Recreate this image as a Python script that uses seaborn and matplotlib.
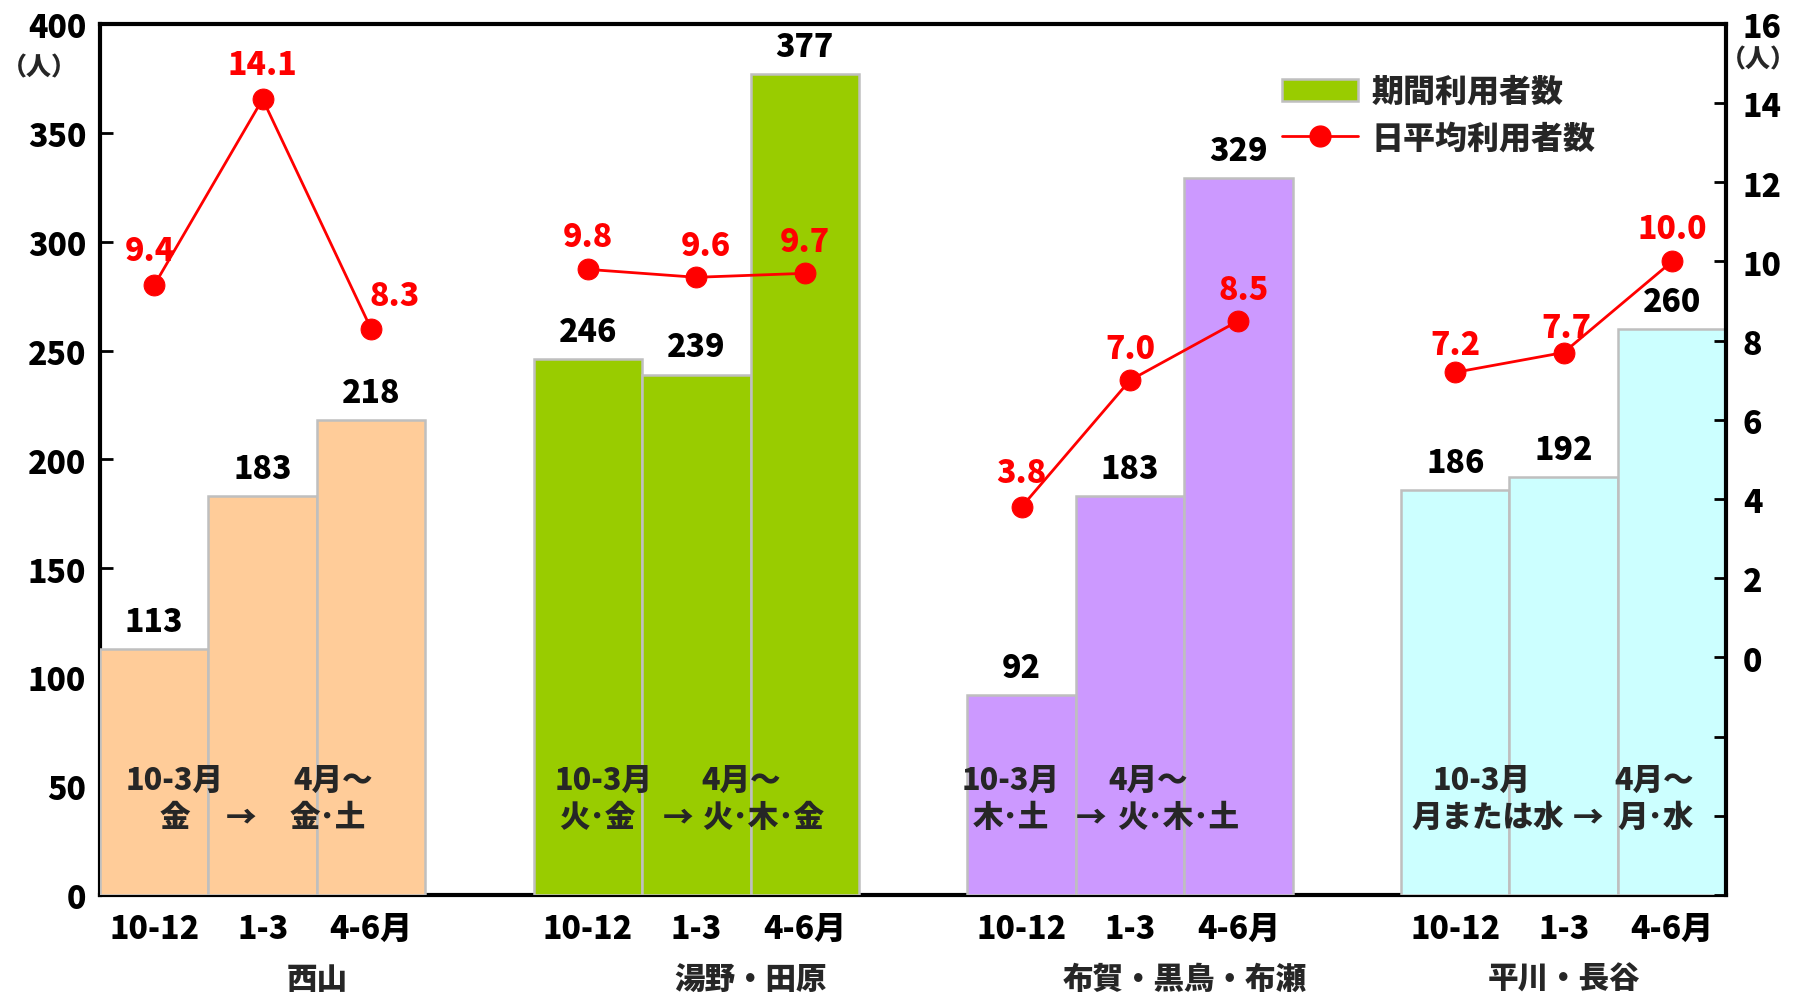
import numpy as np
import pandas as pd
import matplotlib
matplotlib.use("Agg")
import matplotlib.pyplot as plt
import matplotlib.transforms as mtransforms
from matplotlib.patches import Patch
from matplotlib.lines import Line2D
import seaborn as sns

# ---------------- data ----------------
groups = ["西山", "湯野・田原", "布賀・黒鳥・布瀬", "平川・長谷"]
periods = ["10-12", "1-3", "4-6月"]
period_users = [113, 183, 218, 246, 239, 377, 92, 183, 329, 186, 192, 260]
daily_users = [9.4, 14.1, 8.3, 9.8, 9.6, 9.7, 3.8, 7.0, 8.5, 7.2, 7.7, 10.0]
group_colors = ["#FFCC99", "#99CC00", "#CC99FF", "#CCFFFF"]
schedule_before = ["金", "火･金", "木･土", "月または水"]
schedule_after = ["金･土", "火･木･金", "火･木･土", "月･水"]
legend_labels = ["期間利用者数", "日平均利用者数"]

# ---------------- layout (annotation placement) ----------------
sched_head_x = [(0.19, 1.65), (4.14, 5.41), (7.90, 9.17), (12.24, 13.83)]
sched_row_x = [(0.19, 0.80, 1.60), (4.09, 4.83, 5.62), (7.90, 8.64, 9.44), (12.30, 13.22, 13.85)]
group_label_x = [1.5, 5.5, 9.5, 13.0]
line_label_offset = [(-3, 25), (0, 25), (17, 24), (0, 24), (7, 23), (0, 23),
                     (0, 25), (0, 23), (4, 23), (0, 20), (2, 18), (0, 24)]

FONT = ["Noto Sans CJK JP", "DejaVu Sans"]
W = "heavy"

rows = []
for gi, g in enumerate(groups):
    for pi, p in enumerate(periods):
        k = gi * 3 + pi
        rows.append(dict(group=g, period=p, slot=gi * 4 + pi,
                         users=period_users[k], daily=daily_users[k]))
df = pd.DataFrame(rows)

sns.set_theme(style="white")
plt.rcParams["font.family"] = FONT
plt.rcParams["font.weight"] = W

fig = plt.figure(figsize=(18.02, 9.95), dpi=100)
ax = fig.add_axes([0.0555, 0.0995, 0.9025, 0.8755])

sns.barplot(data=df, x="slot", y="users", hue="group", hue_order=groups,
            palette=group_colors, native_scale=True, width=1.0, dodge=False,
            saturation=1, errorbar=None, edgecolor="#BFBFBF", linewidth=1.8,
            legend=False, ax=ax, zorder=3)

ax.set_xlim(-0.5, 14.5)
ax.set_ylim(0, 400)
ax.set_yticks(np.arange(0, 401, 50))
ax.set_xticks(df["slot"])
ax.set_xticklabels(df["period"])
ax.set_xlabel("")
ax.set_ylabel("")
ax.tick_params(axis="y", direction="in", length=9, width=2, labelsize=23, pad=10, colors="black")
ax.tick_params(axis="x", length=0, labelsize=23, pad=12, colors="black")
for lab in ax.get_xticklabels() + ax.get_yticklabels():
    lab.set_fontweight(W)

for s in ["left", "top", "bottom"]:
    ax.spines[s].set_color("black")
    ax.spines[s].set_linewidth(3)
ax.spines["right"].set_visible(False)
ax.spines["bottom"].set_zorder(2)

# bar value labels
for _, r in df.iterrows():
    ax.annotate(f"{r.users}", (r.slot, r.users), xytext=(0, 20), textcoords="offset points",
                ha="center", va="center", fontsize=23, fontweight=W, color="black", zorder=6)

# schedule texts
for gi in range(len(groups)):
    hx = sched_head_x[gi]
    rx = sched_row_x[gi]
    kw = dict(ha="center", va="center", fontsize=22, fontweight=W, zorder=6)
    ax.text(hx[0], 53, "10-3月", **kw)
    ax.text(hx[1], 53, "4月～", **kw)
    ax.text(rx[0], 36, schedule_before[gi], **kw)
    ax.text(rx[1], 36, "→", **kw)
    ax.text(rx[2], 36, schedule_after[gi], **kw)

# group labels
trans = mtransforms.blended_transform_factory(ax.transData, fig.transFigure)
for gi, g in enumerate(groups):
    ax.text(group_label_x[gi], 0.016, g, transform=trans, ha="center", va="center",
            fontsize=22, fontweight=W)

# secondary axis: daily users
ax2 = ax.twinx()
sns.lineplot(data=df, x="slot", y="daily", units="group", estimator=None, color="red",
             marker="o", markersize=15, markeredgecolor="red", linewidth=2,
             legend=False, ax=ax2)
ax2.set_ylim(-6, 16)
ax2.set_xlim(-0.5, 14.5)
yt = np.arange(-6, 17, 2)
ax2.set_yticks(yt)
ax2.set_yticklabels([str(v) if v >= 0 else "" for v in yt])
ax2.set_ylabel("")
ax2.tick_params(axis="y", direction="in", length=9, width=2, labelsize=23, pad=12, colors="black")
for lab in ax2.get_yticklabels():
    lab.set_fontweight(W)
for s in ["left", "top", "bottom"]:
    ax2.spines[s].set_visible(False)
ax2.spines["right"].set_color("black")
ax2.spines["right"].set_linewidth(3)

for i, r in df.iterrows():
    dx, dy = line_label_offset[i]
    ax2.annotate(f"{r.daily:.1f}", (r.slot, r.daily), xytext=(dx, dy), textcoords="offset points",
                 ha="center", va="center", fontsize=23, fontweight=W, color="red")

# units
fig.text(0.022, 0.932, "（人）", ha="center", va="center", fontsize=18, fontweight=W)
fig.text(0.976, 0.940, "（人）", ha="center", va="center", fontsize=18, fontweight=W)

# legend
handles = [Patch(facecolor=group_colors[1], edgecolor="#BFBFBF", linewidth=1.8),
           Line2D([0], [0], color="red", linewidth=2, marker="o", markersize=15)]
leg = ax2.legend(handles, legend_labels, loc="upper left", bbox_to_anchor=(0.709, 0.975),
                 frameon=False, handlelength=2.4, handletextpad=0.4, labelspacing=0.4,
                 prop=dict(family=FONT, weight=W, size=23))

fig.savefig("out.png", dpi=100)
